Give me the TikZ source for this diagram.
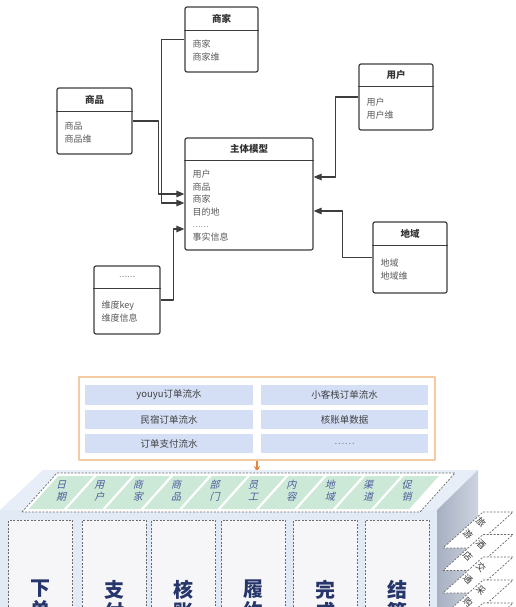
\documentclass[tikz,border=0pt]{standalone}
\usepackage{fontspec}
\setmainfont{Noto Sans CJK SC}
\newfontfamily\slantfont[FakeSlant=0.25]{Noto Sans CJK SC}
\usetikzlibrary{arrows.meta}

\definecolor{linegray}{HTML}{3D3D3D}
\definecolor{orangeline}{HTML}{F2CBA2}
\definecolor{orangearrow}{HTML}{E8843A}
\definecolor{cellblue}{HTML}{D4DFF6}
\definecolor{topblue}{HTML}{E7EEF8}
\definecolor{frontblue}{HTML}{E2EAF6}
\definecolor{sidedark}{HTML}{A7B0C2}
\definecolor{sidelight}{HTML}{CDD3DE}
\definecolor{dimgreen}{HTML}{CCE8D6}
\definecolor{dimtext}{HTML}{4D5C9C}
\definecolor{dashgray}{HTML}{6A6A6A}
\definecolor{colfill}{HTML}{F6F5F8}
\definecolor{navy}{HTML}{26356A}

\begin{document}
\begin{tikzpicture}[x=1pt, y=-1pt, line join=round]

    % Stili
    \tikzset{
        umlbox/.style={draw=linegray, line width=1.2pt, rounded corners=2pt, fill=white},
        umlline/.style={draw=linegray, line width=1.2pt},
        umltitle/.style={font=\fontsize{9.5}{11}\selectfont\bfseries, text=black!80},
        umlbody/.style={font=\fontsize{9}{12.5}\selectfont, text=black!65, align=left, anchor=north west, inner sep=0pt},
        link/.style={-{Triangle[length=8pt, width=6.5pt]}, draw=linegray, line width=1.2pt},
        srcbox/.style={draw=orangeline, line width=1.5pt, fill=white},
        cell/.style={fill=cellblue, font=\fontsize{9.5}{11}\selectfont, text=black!75, inner sep=0pt},
        feed/.style={-{Stealth[length=6pt, width=6pt]}, draw=orangearrow, line width=1.5pt},
        dimframe/.style={draw=dashgray, fill=white, dash pattern=on 2pt off 1.5pt, line width=0.7pt},
        dimcell/.style={fill=dimgreen},
        dimlabel/.style={font=\fontsize{10}{12}\slantfont, text=dimtext, align=center, inner sep=0pt},
        colbox/.style={draw=dashgray, fill=colfill, dash pattern=on 2pt off 1.5pt, line width=0.7pt, minimum width=64, minimum height=120},
        collabel/.style={font=\fontsize{20}{22}\selectfont\bfseries, text=navy, align=center, inner sep=0pt},
        sheet/.style={draw=dashgray, fill=white, dash pattern=on 2pt off 1.5pt, line width=0.7pt},
        sheetlabel/.style={font=\fontsize{9}{10}\selectfont, text=black!80, inner sep=0pt, rotate=-45}
    }

    \useasboundingbox (0,0) rectangle (516,607);
    \clip (0,0) rectangle (516,607);
    \fill[white] (0,0) rectangle (516,607);

    % --- Modello a stella ---
    \node[umlbox, minimum width=73, minimum height=65] (shangjia) at (221.5,39.5) {};
    \draw[umlline] ([yshift=-24pt]shangjia.north west) -- ([yshift=-24pt]shangjia.north east);
    \node[umltitle] at ([yshift=-12pt]shangjia.north) {商家};
    \node[umlbody] at ([xshift=8pt, yshift=-33.5pt]shangjia.north west) {商家\\商家维};

    \node[umlbox, minimum width=75, minimum height=66] (shangpin) at (94.5,121) {};
    \draw[umlline] ([yshift=-24pt]shangpin.north west) -- ([yshift=-24pt]shangpin.north east);
    \node[umltitle] at ([yshift=-12pt]shangpin.north) {商品};
    \node[umlbody] at ([xshift=8pt, yshift=-34.5pt]shangpin.north west) {商品\\商品维};

    \node[umlbox, minimum width=74, minimum height=66] (yonghu) at (396,97) {};
    \draw[umlline] ([yshift=-23pt]yonghu.north west) -- ([yshift=-23pt]yonghu.north east);
    \node[umltitle] at ([yshift=-11.5pt]yonghu.north) {用户};
    \node[umlbody] at ([xshift=8pt, yshift=-34.5pt]yonghu.north west) {用户\\用户维};

    \node[umlbox, minimum width=128, minimum height=112] (main) at (249,194) {};
    \draw[umlline] ([yshift=-23pt]main.north west) -- ([yshift=-23pt]main.north east);
    \node[umltitle] at ([yshift=-11.5pt]main.north) {主体模型};
    \node[umlbody] at ([xshift=8pt, yshift=-32.5pt]main.north west)
        {用户\\商品\\商家\\目的地\\{\color{black!50}\fontsize{7.5}{12.5}\selectfont ……}\\事实信息};

    \node[umlbox, minimum width=74, minimum height=71] (diyu) at (410,257.5) {};
    \draw[umlline] ([yshift=-24pt]diyu.north west) -- ([yshift=-24pt]diyu.north east);
    \node[umltitle] at ([yshift=-12pt]diyu.north) {地域};
    \node[umlbody] at ([xshift=8pt, yshift=-37.5pt]diyu.north west) {地域\\地域维};

    \node[umlbox, minimum width=66, minimum height=68] (more) at (127,300) {};
    \draw[umlline] ([yshift=-23pt]more.north west) -- ([yshift=-23pt]more.north east);
    \node[umltitle, font=\fontsize{7.5}{11}\selectfont, text=black!65] at ([yshift=-11.5pt]more.north) {……};
    \node[umlbody] at ([xshift=8pt, yshift=-35.5pt]more.north west) {维度key\\维度信息};

    % Frecce verso il modello
    \draw[link] (shangjia.west) -- ++(-23,0) |- ([yshift=-9pt]main.west);
    \draw[link] (shangpin.east) -- ++(26,0) |- (main.west);
    \draw[link] (yonghu.west) -- ++(-23,0) |- ([yshift=17pt]main.east);
    \draw[link] (diyu.west) -- ++(-30,0) |- ([yshift=-17pt]main.east);
    \draw[link] (more.east) -- ++(13,0) |- ([yshift=-35pt]main.west);

    % --- Sorgenti dati ---
    \node[srcbox, minimum width=356, minimum height=83] (src) at (257,418.5) {};
    \node[cell, minimum width=168, minimum height=19.5] (s1) at (169,395) {youyu订单流水};
    \node[cell, minimum width=167, minimum height=19.5] (s2) at (344.5,395) {小客栈订单流水};
    \node[cell, minimum width=168, minimum height=19.5] (s3) at (169,419.5) {民宿订单流水};
    \node[cell, minimum width=167, minimum height=19.5] (s4) at (344.5,419.5) {核账单数据};
    \node[cell, minimum width=168, minimum height=19.5] (s5) at (169,443.5) {订单支付流水};
    \node[cell, minimum width=167, minimum height=19.5] (s6) at (344.5,443.5) {\color{black!50}\fontsize{9.5}{11}\selectfont ……};

    \coordinate (cubein) at (257,472);
    \draw[feed] (src.south) -- (cubein);

    % --- Cubo ---
    \fill[topblue] (43,470) -- (478,470) -- (437,510) -- (0,510) -- cycle;
    \shade[left color=sidedark, right color=sidelight] (437,510) -- (478,470) -- (478,607) -- (437,607) -- cycle;
    \fill[frontblue] (0,510) rectangle (437,607);

    % Dimensioni sulla faccia superiore
    \draw[dimframe] (22,512) -- (57,473) -- (455,473) -- (420,512) -- cycle;
    \foreach \a/\b [count=\i from 0] in {日/期,用/户,商/家,商/品,部/门,员/工,内/容,地/域,渠/道,促/销}{
        \pgfmathsetmacro\cx{61+38.4*\i}
        \fill[dimcell] (\cx-32.3,509) -- (\cx+2.7,509) -- (\cx+32.3,476) -- (\cx-2.7,476) -- cycle;
        \node[dimlabel] (d\i) at (\cx,491) {\a\\\b};
    }

    % Processi sulla faccia frontale
    \foreach \x/\a/\b [count=\i] in {40.5/下/单, 114/支/付, 183.5/核/账, 253.5/履/约, 325.5/完/成, 397/结/算}{
        \node[colbox, anchor=north] (col\i) at (\x,520) {};
        \node[collabel, anchor=north] (lab\i) at (\x,580) {\a\\\b};
    }

    % Fogli sul lato destro
    \foreach \y in {512, 534.5, 557, 580, 603}{
        \draw[sheet] (483,\y) -- (513,\y) -- (473,\y+36) -- (443,\y+36) -- cycle;
    }
    \foreach \y/\a/\b [count=\i] in {512/旅/游, 534.5/酒/店, 557/交/通, 580/采/购}{
        \node[sheetlabel] (ta\i) at (481,\y+10) {\a};
        \node[sheetlabel] (tb\i) at (468,\y+22) {\b};
    }

\end{tikzpicture}
\end{document}
